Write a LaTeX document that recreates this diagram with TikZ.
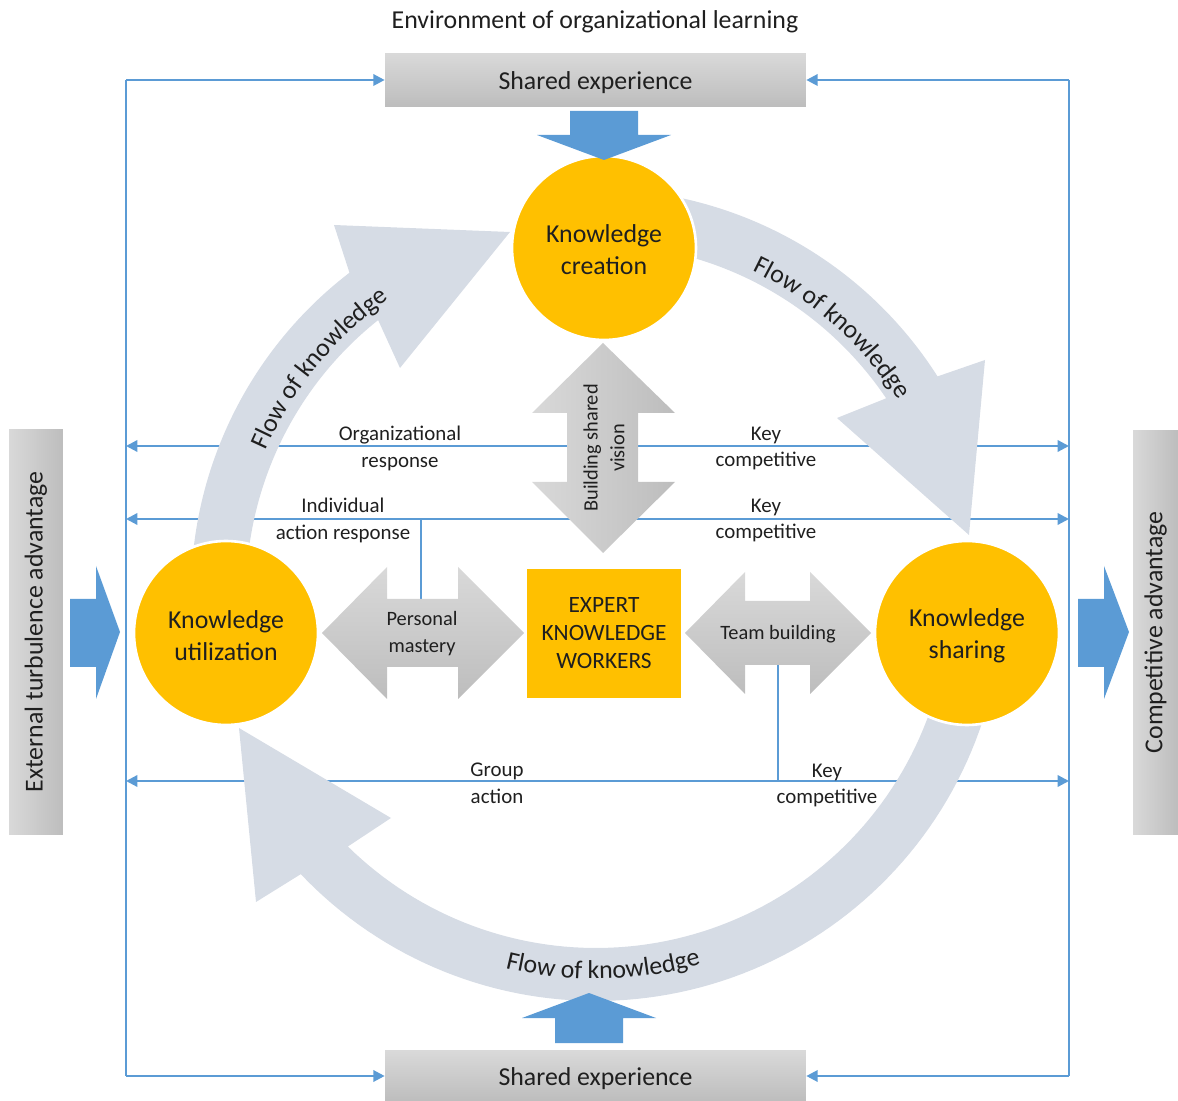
\documentclass[tikz,border=0pt]{standalone}
\usepackage{fontspec}
\setmainfont{Carlito}
\usetikzlibrary{arrows.meta,decorations.text}
\definecolor{bl}{HTML}{5B9BD5}
\definecolor{flowc}{HTML}{D6DCE5}
\definecolor{yel}{HTML}{FFC000}
\definecolor{txt}{HTML}{1F1F1F}
\definecolor{g1}{HTML}{D9D9D9}
\definecolor{g2}{HTML}{BDBDBD}
\begin{document}
\begin{tikzpicture}[x=0.02cm,y=-0.02cm,
  blue line/.style={draw=bl, line width=1.3pt},
  tipped/.style={blue line, -{Triangle[length=6.5pt,width=6.5pt]}},
  both tipped/.style={blue line, {Triangle[length=6.5pt,width=6.5pt]}-{Triangle[length=6.5pt,width=6.5pt]}},
  flow/.style={fill=flowc},
  block/.style={fill=bl},
  greyarrow/.style={top color=g1, bottom color=g2},
  kcircle/.style={circle, fill=yel, draw=white, line width=1.5pt, minimum size=3.68cm, inner sep=0pt},
  circtext/.style={align=center, font=\fontsize{14.7}{18.1}\selectfont, text=txt, inner sep=0pt},
  expertbox/.style={rectangle, fill=yel, minimum width=3.08cm, minimum height=2.58cm, inner sep=0pt, align=center, font=\fontsize{13.3}{15.9}\selectfont, text=txt},
  sharedbox/.style={rectangle, top color=g1, bottom color=g2, minimum width=8.42cm, inner sep=0pt},
  sidebox/.style={rectangle, left color=g1, right color=g2, inner sep=0pt},
  sidetext/.style={rotate=90, font=\fontsize{14.7}{18}\selectfont, text=txt, inner sep=0pt},
  lbl/.style={align=center, font=\fontsize{11.9}{15.3}\selectfont, text=txt, inner sep=0pt},
  arrlbl/.style={align=center, font=\fontsize{11.6}{15.3}\selectfont, text=txt, inner sep=0pt},
  bigtext/.style={font=\fontsize{14.7}{18}\selectfont, text=txt, inner sep=0pt}
]
\useasboundingbox (0,0) rectangle (1178,1101);

\coordinate (TL) at (126,80);
\coordinate (TR) at (1069,80);
\coordinate (BL) at (126,1076);
\coordinate (BR) at (1069,1076);
\coordinate (L1) at (126,446);  \coordinate (R1) at (1069,446);
\coordinate (L2) at (126,519);  \coordinate (R2) at (1069,519);
\coordinate (L3) at (126,781);  \coordinate (R3) at (1069,781);
\coordinate (pmjoin) at (421,519);
\coordinate (pmtop) at (421,600);
\coordinate (tbbot) at (778,664);
\coordinate (tbjoin) at (778,781);

% frame and lines
\draw[blue line] (TL) -- (BL);
\draw[blue line] (TR) -- (BR);
\draw[both tipped] (L1) -- (R1);
\draw[both tipped] (L2) -- (R2);
\draw[both tipped] (L3) -- (R3);
\draw[blue line] (pmjoin) -- (pmtop);
\draw[blue line] (tbbot) -- (tbjoin);

% flow arrows
\fill[flow] plot[domain=176:127.5,samples=50] ({596+405*cos(\x)},{594-405*sin(\x)})
  -- (334,225) -- (510,232) -- (400,368)
  -- plot[domain=128.5:176,samples=50] ({596+350*cos(\x)},{594-350*sin(\x)}) -- cycle;
\fill[flow] plot[domain=80:32.5,samples=50] ({596+405*cos(\x)},{594-405*sin(\x)})
  -- (985,360) -- (969,535) -- (837,418)
  -- plot[domain=34:80,samples=50] ({596+350*cos(\x)},{594-350*sin(\x)}) -- cycle;
\fill[flow] plot[domain=-15:-136.5,samples=80] ({596+407*cos(\x)},{594-407*sin(\x)})
  -- (256,902) -- (239,728) -- (391,818)
  -- plot[domain=-134.5:-15,samples=80] ({596+354*cos(\x)},{594-354*sin(\x)}) -- cycle;

% grey double arrows
\shade[greyarrow] (322,633) -- (387,567) -- (387,599) -- (458,599) -- (458,567) -- (524,633)
  -- (458,699) -- (458,667) -- (387,667) -- (387,699) -- cycle;
\shade[greyarrow] (685,633) -- (745,572) -- (745,601) -- (810,601) -- (810,572) -- (871,633)
  -- (810,694) -- (810,665) -- (745,665) -- (745,694) -- cycle;
\shade[left color=g1, right color=g2] (603,343) -- (675,413) -- (638,413) -- (638,482) -- (675,482)
  -- (603,553) -- (532,482) -- (567,482) -- (567,413) -- (532,413) -- cycle;

% circles and expert box
\node[kcircle] (create) at (604,248) {};
\node[kcircle] (util) at (226,633) {};
\node[kcircle] (share) at (967,633) {};
\node[circtext] (createtxt) at (604,249.5) {Knowledge\\creation};
\node[circtext] (utiltxt) at (226,636) {Knowledge\\utilization};
\node[circtext] (sharetxt) at (967,635.5) {Knowledge\\sharing};
\node[expertbox] (expert) at (604,633.5) {EXPERT\\KNOWLEDGE\\WORKERS};

% blue block arrows
\fill[block] (570,111) -- (638,111) -- (638,135) -- (671,135) -- (604,160) -- (537,135) -- (570,135) -- cycle;
\fill[block] (555,1043) -- (623,1043) -- (623,1018) -- (656,1018) -- (589,993) -- (522,1018) -- (555,1018) -- cycle;
\fill[block] (70,599) -- (96,599) -- (96,566) -- (120,632) -- (96,699) -- (96,667) -- (70,667) -- cycle;
\fill[block] (1078,599) -- (1104,599) -- (1104,566) -- (1129,632) -- (1104,699) -- (1104,667) -- (1078,667) -- cycle;

% boxes
\node[sharedbox, minimum height=1.06cm] (topbox) at (595.5,80) {};
\node[sharedbox, minimum height=1.02cm] (botbox) at (595.5,1076) {};
\node[bigtext] (toptxt) at (595.5,82.5) {Shared experience};
\node[bigtext] (bottxt) at (595.5,1078.5) {Shared experience};
\node[sidebox, minimum width=1.08cm, minimum height=8.12cm] (extbox) at (36,632) {};
\node[sidebox, minimum width=0.9cm, minimum height=8.1cm] (compbox) at (1155.5,632.5) {};
\node[sidetext] (exttext) at (extbox.center) {External turbulence advantage};
\node[sidetext] (comptext) at (compbox.center) {Competitive advantage};

\draw[tipped] (TL) -- (topbox.west);
\draw[tipped] (TR) -- (topbox.east);
\draw[tipped] (BL) -- (botbox.west);
\draw[tipped] (BR) -- (botbox.east);

% texts
\node[bigtext] (title) at (595,22) {Environment of organizational learning};
\node[lbl] (orgresp) at (400,448.5) {Organizational\\response};
\node[lbl] (key1) at (766,448.5) {Key\\competitive};
\node[lbl] (indiv) at (343,520.5) {Individual\\action response};
\node[lbl] (key2) at (766,520.5) {Key\\competitive};
\node[lbl] (group) at (497,783.5) {Group\\action};
\node[lbl] (key3) at (827,785.5) {Key\\competitive};
\node[arrlbl] (pmtxt) at (422,634) {Personal\\mastery};
\node[arrlbl] (tbtxt) at (778,634) {Team building};
\node[arrlbl, rotate=90] (bsv) at (604,448) {Building shared\\vision};

% curved flow texts
\path[decorate, decoration={text along path, text align=center,
  text={|\fontsize{14.7}{18}\selectfont\color{txt}|Flow of knowledge}}]
  plot[domain=165.8:115.8,samples=60] ({596+360*cos(\x)},{594-360*sin(\x)});
\path[decorate, decoration={text along path, text align=center,
  text={|\fontsize{14.7}{18}\selectfont\color{txt}|Flow of knowledge}}]
  plot[domain=73.4:23.4,samples=60] ({596+359*cos(\x)},{594-359*sin(\x)});
\path[decorate, decoration={text along path, text align=center,
  text={|\fontsize{14.7}{18}\selectfont\color{txt}|Flow of knowledge}}]
  plot[domain=-118.9:-58.9,samples=60] ({596+385*cos(\x)},{594-385*sin(\x)});
\end{tikzpicture}
\end{document}
